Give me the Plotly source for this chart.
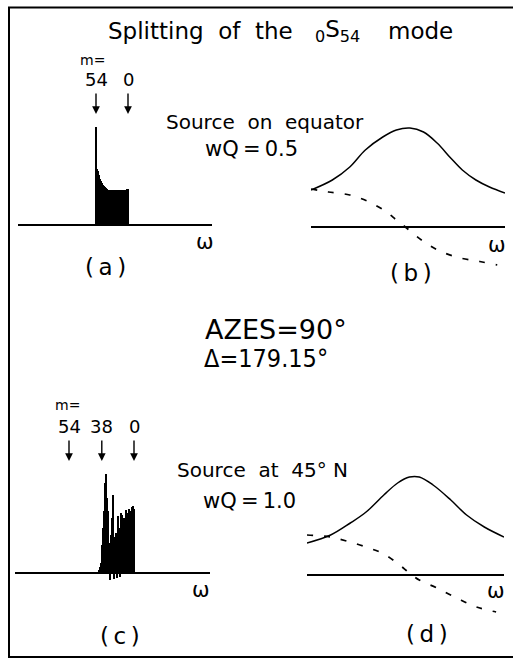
import plotly.graph_objects as go

# ---------------- data ----------------
# panel (a): split spectrum, source on equator (omega in arbitrary units)
omega_a = [39.0, 39.5, 40.0, 40.5, 41.0, 41.5, 42.0, 42.5, 43.0, 43.5, 44.0, 44.5,
           45.0, 45.5, 46.0, 46.5, 47.0, 47.5, 48.0, 48.5, 49.0, 49.5, 50.0, 50.5,
           51.0, 51.5, 52.0, 52.5, 53.0, 53.5, 54.0, 54.5, 55.0]
amp_a = [0.98, 0.56, 0.54, 0.50, 0.46, 0.44, 0.42, 0.40, 0.39, 0.38, 0.37, 0.36,
         0.35, 0.35, 0.35, 0.35, 0.35, 0.35, 0.35, 0.35, 0.35, 0.35, 0.35, 0.35,
         0.35, 0.35, 0.35, 0.35, 0.35, 0.35, 0.355, 0.36, 0.36]
marks_a_m = ["54", "0"]
marks_a_omega = [39.0, 55.0]

# panel (c): split spectrum, source at 45 N
omega_c = [42.0, 42.5, 43.0, 43.5, 44.0, 44.5, 45.0, 45.5, 46.0, 46.5, 47.0, 47.5,
           48.0, 48.5, 49.0, 49.5, 50.0, 50.5, 51.0, 51.5, 52.0, 52.5, 53.0, 53.5,
           54.0, 54.5, 55.0, 55.5, 56.0, 56.5, 57.0, 57.5, 58.0, 58.5, 59.0, 59.5]
amp_c = [0.03, 0.06, 0.10, 0.28, 0.45, 0.62, 0.90, 0.99, 0.75, 0.62, 0.30, -0.07,
         0.38, 0.55, 0.78, -0.06, 0.36, 0.40, -0.05, 0.57, 0.45, -0.04, 0.60, 0.58,
         0.50, 0.55, 0.52, 0.63, 0.60, 0.45, 0.64, 0.62, 0.40, 0.66, 0.67, 0.64]
marks_c_m = ["54", "38", "0"]
marks_c_omega = [27.0, 43.4, 59.5]

# panel (b): resonance curves, wQ = 0.5
omega_b = [0, 11, 20, 28, 37, 44, 51, 58, 65, 72, 78, 85, 92, 100]
solid_b = [0.37, 0.47, 0.60, 0.77, 0.90, 0.97, 0.99, 0.95, 0.84, 0.69, 0.57, 0.47, 0.40, 0.34]
omega_b_dash = [0, 9, 20, 30, 39, 44, 48, 58, 67, 77, 87, 96]
dash_b = [0.38, 0.35, 0.32, 0.25, 0.15, 0.07, 0.01, -0.145, -0.245, -0.31, -0.345, -0.38]

# panel (d): resonance curves, wQ = 1.0
omega_d = [0, 12, 22, 30, 39, 46, 52, 57, 64, 73, 81, 90, 100]
solid_d = [0.32, 0.40, 0.52, 0.63, 0.80, 0.92, 0.98, 0.98, 0.90, 0.75, 0.60, 0.48, 0.38]
omega_d_dash = [0, 12, 20, 30, 39, 47, 52, 57, 66, 76, 86, 96]
dash_d = [0.40, 0.38, 0.34, 0.28, 0.21, 0.10, 0.02, -0.05, -0.13, -0.23, -0.32, -0.37]

# ---------------- layout helpers ----------------
W, H = 513, 659
FONT = "DejaVu Sans"
FONT_N = "DejaVu Sans Condensed, DejaVu Sans"
DASH = "6px,11px"


def px(x):
    return x / W


def py(y):
    return 1 - y / H


def ydom(top, bottom, base, scale=100.0):
    return [py(bottom), py(top)], [(base - bottom) / scale, (base - top) / scale]


fig = go.Figure()

fig.add_trace(go.Bar(x=omega_a, y=amp_a, width=0.55, marker=dict(color="black", line=dict(width=0)),
                     xaxis="x", yaxis="y"))
fig.add_trace(go.Scatter(x=omega_b, y=solid_b, mode="lines", line=dict(color="black", width=1.5, shape="spline"),
                         xaxis="x2", yaxis="y2"))
fig.add_trace(go.Scatter(x=omega_b_dash, y=dash_b, mode="lines",
                         line=dict(color="black", width=1.7, shape="spline", dash=DASH),
                         xaxis="x2", yaxis="y2"))
fig.add_trace(go.Bar(x=omega_c, y=amp_c, width=0.55, marker=dict(color="black", line=dict(width=0)),
                     xaxis="x3", yaxis="y3"))
fig.add_trace(go.Scatter(x=omega_d, y=solid_d, mode="lines", line=dict(color="black", width=1.5, shape="spline"),
                         xaxis="x4", yaxis="y4"))
fig.add_trace(go.Scatter(x=omega_d_dash, y=dash_d, mode="lines",
                         line=dict(color="black", width=1.7, shape="spline", dash=DASH),
                         xaxis="x4", yaxis="y4"))


def xax(x0, x1, rng):
    return dict(domain=[px(x0), px(x1)], range=rng, visible=False, fixedrange=True)


def yax(top, bottom, base, anchor):
    d, r = ydom(top, bottom, base)
    return dict(domain=d, range=r, anchor=anchor, showgrid=False, showticklabels=False, ticks="",
                showline=False, zeroline=True, zerolinecolor="black", zerolinewidth=1.6, fixedrange=True)


ann = []


def text(x, y, s, size, anchor="center", family=FONT):
    ann.append(dict(x=px(x), y=py(y), xref="paper", yref="paper", text=s, showarrow=False,
                    xanchor=anchor, yanchor="middle", font=dict(family=family, size=size, color="black")))


# title
text(106, 31, "Splitting&nbsp;&nbsp;of&nbsp;&nbsp;the", 23, "left")
text(313, 31, "<sub>0</sub>S<sub>54</sub>", 23, "left")
text(386, 31, "mode", 23, "left")
# panel texts
text(265, 122, "Source&nbsp;&nbsp;on&nbsp;&nbsp;equator", 20)
text(251, 149, "wQ\u2009=\u20090.5", 21)
text(262, 470, "Source&nbsp;&nbsp;at&nbsp;&nbsp;45°&nbsp;N", 20)
text(249, 501, "wQ\u2009=\u20091.0", 21)
text(276, 329, "AZES=90°", 27)
text(266, 359, "Δ=179.15°", 25, family=FONT_N)
# omega labels and panel letters
for (x, y) in [(205, 242), (497, 245), (201, 590), (496, 591)]:
    text(x, y, "ω", 21)
text(105, 267, "(\u2009a\u2009)", 23)
text(411, 273, "(\u2009b\u2009)", 23)
text(120, 636, "(\u2009c\u2009)", 23)
text(427, 634, "(\u2009d\u2009)", 23)

# m labels and arrows
text(92, 60, "m=", 14)
text(67, 405, "m=", 14)
for lab, om in zip(marks_a_m, marks_a_omega):
    ann.append(dict(x=om, y=py(80), xref="x", yref="paper", text=lab, showarrow=False,
                    xanchor="center", yanchor="middle", font=dict(family=FONT, size=18, color="black")))
    ann.append(dict(x=om, y=py(114), xref="x", yref="paper", text="", showarrow=True,
                    ax=0, ay=-22, arrowhead=2, arrowsize=1.1, arrowwidth=1.4, arrowcolor="black"))
for lab, om in zip(marks_c_m, marks_c_omega):
    ann.append(dict(x=om, y=py(427), xref="x3", yref="paper", text=lab, showarrow=False,
                    xanchor="center", yanchor="middle", font=dict(family=FONT, size=18, color="black")))
    ann.append(dict(x=om, y=py(461), xref="x3", yref="paper", text="", showarrow=True,
                    ax=0, ay=-22, arrowhead=2, arrowsize=1.1, arrowwidth=1.4, arrowcolor="black"))

fig.update_layout(
    width=W, height=H, margin=dict(l=0, r=0, t=0, b=0),
    paper_bgcolor="white", plot_bgcolor="rgba(0,0,0,0)",
    showlegend=False, bargap=0,
    xaxis=xax(18, 212, [0, 97]),
    yaxis=yax(110, 240, 225, "x"),
    xaxis2=xax(311, 505, [0, 100]),
    yaxis2=yax(115, 285, 227, "x2"),
    xaxis3=xax(15, 210, [0, 97.5]),
    yaxis3=yax(465, 595, 573, "x3"),
    xaxis4=xax(307, 504, [0, 100]),
    yaxis4=yax(465, 630, 575, "x4"),
    annotations=ann,
    shapes=[dict(type="rect", xref="paper", yref="paper", x0=px(9), x1=1.05, y0=py(657), y1=py(7.5),
                 line=dict(color="black", width=2))],
)

fig.write_html("out.html")
